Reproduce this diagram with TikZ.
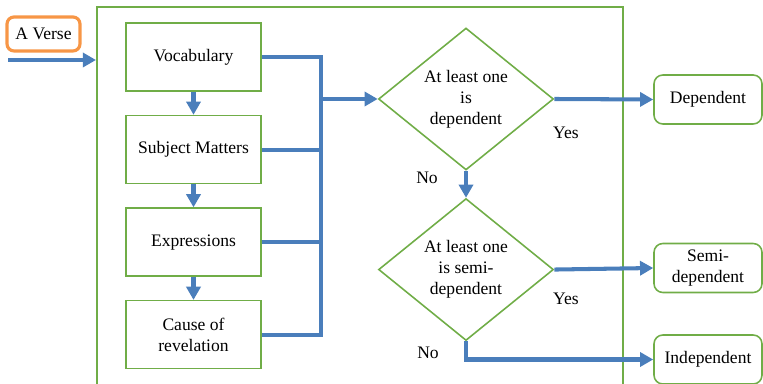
\documentclass[tikz,border=0pt]{standalone}
\usepackage{fontspec}
\setmainfont{Liberation Serif}
\usetikzlibrary{arrows.meta, positioning, shapes.geometric}
\definecolor{boxgreen}{HTML}{70AD47}
\definecolor{flowblue}{HTML}{4A7EBB}
\definecolor{verseorange}{HTML}{F79646}

\begin{document}
\begin{tikzpicture}[
  x=0.02cm, y=-0.02cm,
  box/.style={draw=boxgreen, line width=0.9pt, minimum width=2.7cm, minimum height=1.36cm, align=center},
  result/.style={draw=boxgreen, line width=0.9pt, rounded corners=5pt, minimum width=2.16cm, minimum height=0.98cm, align=center},
  decision/.style={draw=boxgreen, line width=0.9pt, diamond, aspect=1.23, inner sep=0pt, minimum width=3.5cm, minimum height=2.84cm, align=center},
  input/.style={draw=verseorange, line width=1.8pt, rounded corners=4pt, minimum width=1.46cm, minimum height=0.68cm},
  link/.style={draw=flowblue, line width=2.3pt},
  arrow/.style={link, -{Triangle[length=7.5pt, width=8pt]}},
  note/.style={align=center}
]
\useasboundingbox (0,0) rectangle (763,384);

% Outer frame (runs off the bottom)
\draw[draw=boxgreen, line width=0.9pt] (97,400) |- (623,7) -- (623,400);

% Input verse
\node[input] (verse) at (43.5,34) {A Verse};
\coordinate (start) at (8,60);
\coordinate (entry) at (96,60);
\draw[arrow] (start) -- (entry);

% Feature boxes
\node[box] (vocab) at (193.5,57) {Vocabulary};
\node[box, below=0.46cm of vocab] (subj) {Subject Matters};
\node[box, below=0.46cm of subj] (expr) {Expressions};
\node[box, below=0.46cm of expr] (cause) {Cause of\\revelation};

\draw[arrow] (vocab) -- (subj);
\draw[arrow] (subj) -- (expr);
\draw[arrow] (expr) -- (cause);

% Collecting line on the right
\draw[link] (vocab.east) -- ++(59,0) coordinate (bus) |- (cause.east);
\draw[link] (subj.east) -- (subj.east -| bus);
\draw[link] (expr.east) -- (expr.east -| bus);

% Decisions
\node[decision] (dep1) at (466,99) {At least one\\is\\dependent};
\node[decision, below=0.54cm of dep1] (dep2) {At least one\\is semi-\\dependent};

\draw[arrow] (dep1.west -| bus) -- (dep1.west);

% Outcomes
\node[result] (dependent) at (708,99.5) {Dependent};
\node[result] (semi) at (708,268) {Semi-\\dependent};
\node[result] (indep) at (708,359.5) {Independent};

\draw[arrow] (dep1.east) -- (dependent.west);
\draw[arrow] (dep1.south) -- (dep2.north);
\draw[arrow] (dep2.east) -- (semi.west);
\draw[arrow] (dep2.south) |- (indep.west);

% Yes / No labels
\node[note] (yes1) at (566,133) {Yes};
\node[note] (no1) at (427,178) {No};
\node[note] (yes2) at (566,299) {Yes};
\node[note] (no2) at (428,353) {No};

\end{tikzpicture}
\end{document}
